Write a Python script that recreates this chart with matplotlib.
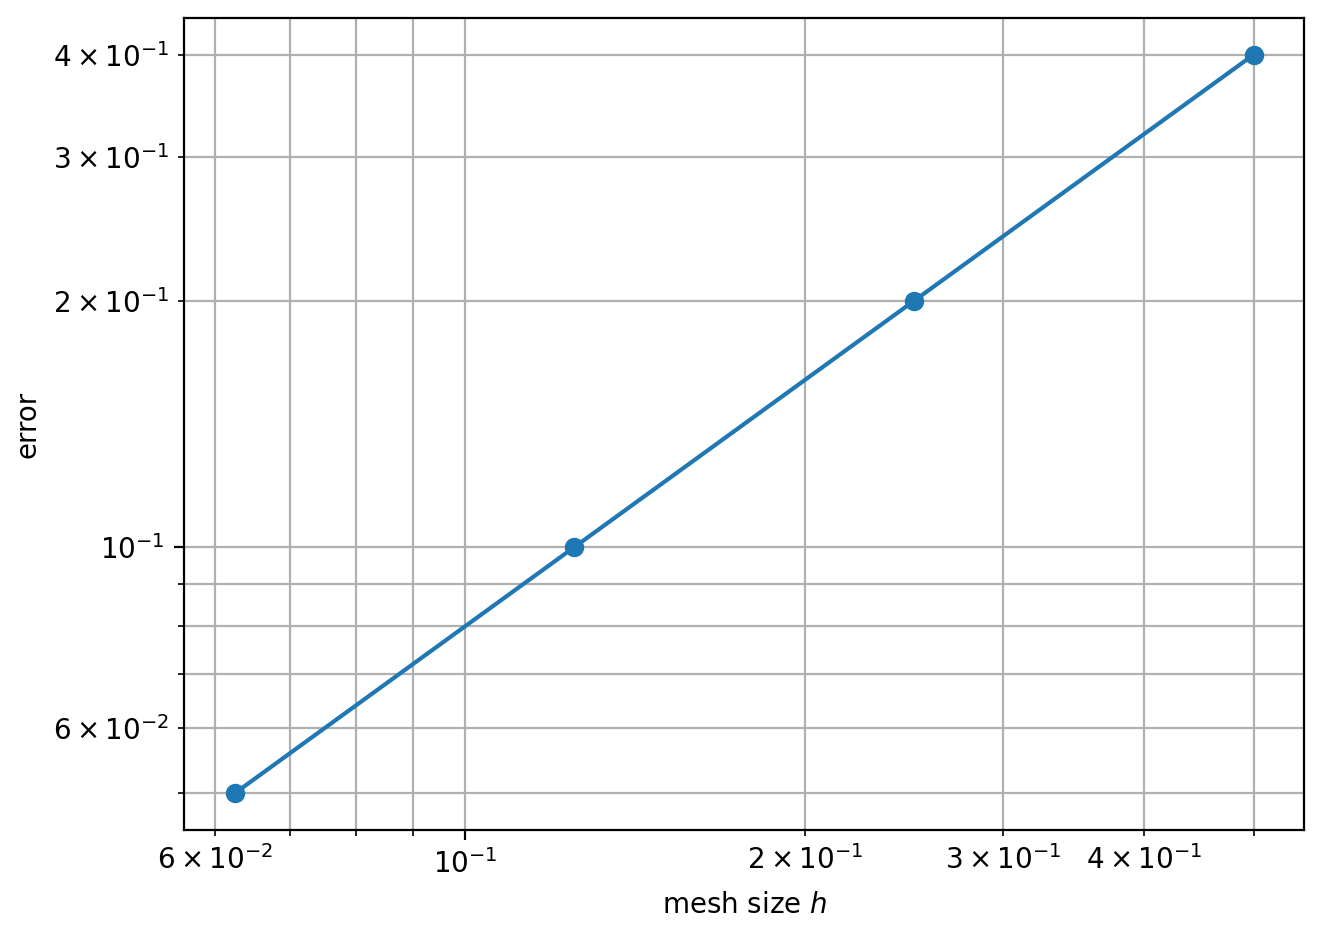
import numpy as np
import matplotlib
matplotlib.use('Agg')
import matplotlib.pyplot as plt

# mesh sizes and corresponding errors (halving h halves the error)
mesh_sizes = [0.0625, 0.125, 0.25, 0.5]
errors = [0.05, 0.1, 0.2, 0.4]

fig, ax = plt.subplots(figsize=(6.615, 4.69), dpi=200)
ax.loglog(mesh_sizes, errors, marker='o')
ax.set_xlabel('mesh size $h$')
ax.set_ylabel('error')
ax.grid(True, which='both')

fig.subplots_adjust(left=0.139, right=0.986, top=0.981, bottom=0.115)
fig.savefig('out.png', dpi=200)
